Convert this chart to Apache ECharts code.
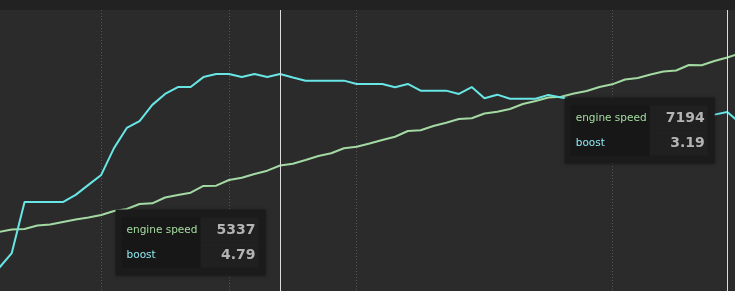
<!DOCTYPE html>
<html>
<head>
<meta charset="utf-8">
<script src="https://cdn.jsdelivr.net/npm/echarts@6/dist/echarts.min.js"></script>
<style>
html,body{margin:0;padding:0;background:#2b2b2b;}
#chart{width:735px;height:291px;}
</style>
</head>
<body>
<div id="chart"></div>
<script>
// sample index (x axis categories)
var samples = ['0','1','2','3','4','5','6','7','8','9','10','11','12','13','14','15','16','17','18','19',
  '20','21','22','23','24','25','26','27','28','29','30','31','32','33','34','35','36','37','38','39',
  '40','41','42','43','44','45','46','47','48','49','50','51','52','53','54','55','56','57','58'];

// engine speed (rpm)
var engineSpeed = [4194,4237,4245,4305,4323,4366,4409,4443,4486,4555,4589,4675,4687,4787,4830,4869,4985,4990,5088,5127,
  5191,5248,5337,5368,5432,5500,5547,5633,5660,5715,5776,5832,5930,5942,6016,6073,6137,6149,6231,6262,
  6309,6394,6446,6506,6518,6575,6618,6687,6733,6816,6842,6902,6953,6970,7065,7060,7134,7194,7263];

// boost
var boost = [-3.38,-2.75,-0.60,-0.60,-0.60,-0.60,-0.30,0.12,0.54,1.67,2.52,2.81,3.49,3.95,4.24,4.24,4.66,4.79,4.79,4.66,
  4.79,4.66,4.79,4.64,4.51,4.51,4.51,4.51,4.37,4.37,4.37,4.23,4.37,4.09,4.09,4.09,3.95,4.24,3.77,3.92,
  3.75,3.75,3.75,3.91,3.80,3.70,3.65,3.70,3.57,3.53,3.53,3.44,3.40,3.36,3.27,3.23,3.08,3.19,2.73];

// cursor positions (sample indices) and dotted grid-line sample indices
var cursorIdx = [22, 57];
var gridIdx = [8, 18, 28, 48];

var seriesNames = ['engine speed', 'boost'];

var chart = echarts.init(document.getElementById('chart'), null, {renderer: 'canvas'});

function boxText(i) {
  return '{n|' + seriesNames[0] + '}{v|' + engineSpeed[i] + '}\n{b|' + seriesNames[1] + '}{w|' + boost[i].toFixed(2) + '}';
}

var rich = {
  n: {width: 74, height: 25, lineHeight: 25, padding: [0, 0, 0, 5], backgroundColor: '#171717',
      color: '#a6dca2', fontFamily: 'DejaVu Sans', fontSize: 10.5, align: 'left'},
  b: {width: 74, height: 25, lineHeight: 25, padding: [0, 0, 0, 5], backgroundColor: '#171717',
      color: '#8fe6f0', fontFamily: 'DejaVu Sans', fontSize: 10.5, align: 'left'},
  v: {width: 55, height: 25, lineHeight: 25, padding: [0, 3, 0, 0], backgroundColor: '#202020',
      color: '#b4b4b4', fontFamily: 'DejaVu Sans', fontWeight: 'bold', fontSize: 14, align: 'right'},
  w: {width: 55, height: 25, lineHeight: 25, padding: [0, 3, 0, 0], backgroundColor: '#202020',
      color: '#b4b4b4', fontFamily: 'DejaVu Sans', fontWeight: 'bold', fontSize: 14, align: 'right'}
};

var boxOffsets = [[-164, 44.5], [-162, 40.5]];

var option = {
  backgroundColor: '#2b2b2b',
  animation: false,
  graphic: [{
    type: 'rect', left: 0, top: 0, z: 0, silent: true,
    shape: {width: 735, height: 10},
    style: {fill: '#222222'}
  }],
  grid: {left: -1, width: 741, top: 10, bottom: 0, containLabel: false, outerBoundsMode: 'none'},
  xAxis: {
    type: 'category', data: samples, boundaryGap: false, show: true,
    axisLine: {show: false}, axisTick: {show: false}, axisLabel: {show: false},
    splitLine: {
      show: true,
      interval: function (index) { return gridIdx.indexOf(index) >= 0; },
      lineStyle: {type: [1, 2], color: '#555555', width: 1}
    }
  },
  yAxis: [
    {type: 'value', show: false, min: 3179, max: 8011, splitLine: {show: false}},
    {type: 'value', show: false, min: -4.347, max: 7.485, splitLine: {show: false}}
  ],
  series: [
    {
      name: seriesNames[0], type: 'line', yAxisIndex: 0, data: engineSpeed,
      symbol: 'none', lineStyle: {color: '#a3d9a3', width: 2}, z: 2,
      markLine: {
        silent: true, symbol: 'none', label: {show: false},
        lineStyle: {color: '#dcdcdc', width: 1, type: 'solid'},
        data: cursorIdx.map(function (i) { return {xAxis: samples[i]}; })
      },
      markPoint: {
        z: 10,
        symbol: 'rect', symbolSize: 1,
        itemStyle: {color: 'rgba(0,0,0,0)'},
        data: cursorIdx.map(function (i, k) {
          return {
            coord: [samples[i], engineSpeed[i]],
            label: {
              show: true, position: boxOffsets[k], formatter: boxText(i),
              backgroundColor: '#1b1b1b', padding: [8, 7, 8, 6], rich: rich,
              shadowColor: 'rgba(0,0,0,0.35)', shadowBlur: 4
            }
          };
        })
      }
    },
    {
      name: seriesNames[1], type: 'line', yAxisIndex: 1, data: boost,
      symbol: 'none', lineStyle: {color: '#68e6e6', width: 2}, z: 3
    }
  ]
};
chart.setOption(option);
</script>
</body>
</html>
